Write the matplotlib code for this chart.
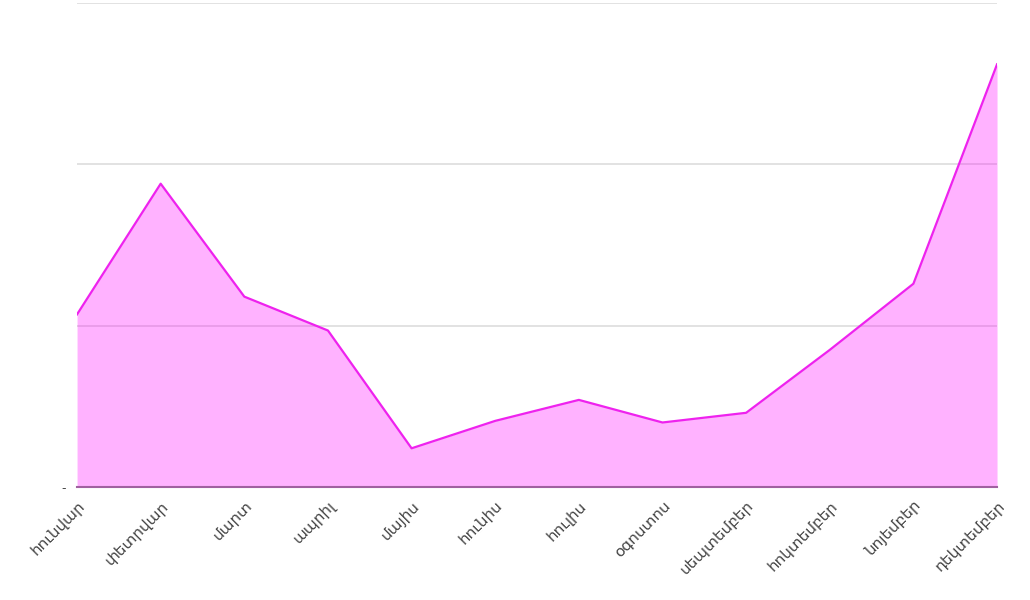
import matplotlib
matplotlib.use("Agg")
import matplotlib.pyplot as plt

# Ամիսներ և արժեքներ
months = ['հունվար', 'փետրվար', 'մարտ', 'ապրիլ', 'մայիս', 'հունիս',
          'հուլիս', 'օգոստոս', 'սեպտեմբեր', 'հոկտեմբեր', 'նոյեմբեր', 'դեկտեմբեր']
values = [10.7, 18.8, 11.8, 9.7, 2.4, 4.1, 5.4, 4.0, 4.6, 8.5, 12.6, 26.2]
y_ticks = [0, 10, 20, 30]

plt.rcParams['font.family'] = ['DejaVu Sans']

fig = plt.figure(figsize=(10.3, 6), dpi=100)
ax = fig.add_axes([0.0748, 0.1883, 0.8932, 0.8067])

x = list(range(len(months)))
ax.fill_between(x, values, 0, color='#ff00ff', alpha=0.30, linewidth=0, zorder=3)
ax.plot(x, values, color='#ee22ee', linewidth=1.6, zorder=4)

ax.set_xlim(0, len(months) - 1)
ax.set_ylim(0, 30)
ax.set_yticks(y_ticks)
ax.set_yticklabels(['-', '', '', ''], color='#444444', fontsize=9)
ax.grid(axis='y', color='#dddddd', linewidth=1.2, zorder=1)
ax.set_axisbelow(True)

ax.set_xticks(x)
ax.set_xticklabels(months, rotation=45, ha='right', rotation_mode='anchor',
                   fontsize=11, color='#444444')
ax.tick_params(axis='both', length=0, pad=8)

for s in ['top', 'right', 'left']:
    ax.spines[s].set_visible(False)
ax.spines['bottom'].set_color('#a060a0')
ax.spines['bottom'].set_linewidth(1.5)
ax.spines['bottom'].set_zorder(5)

fig.savefig('out.png', dpi=100)
